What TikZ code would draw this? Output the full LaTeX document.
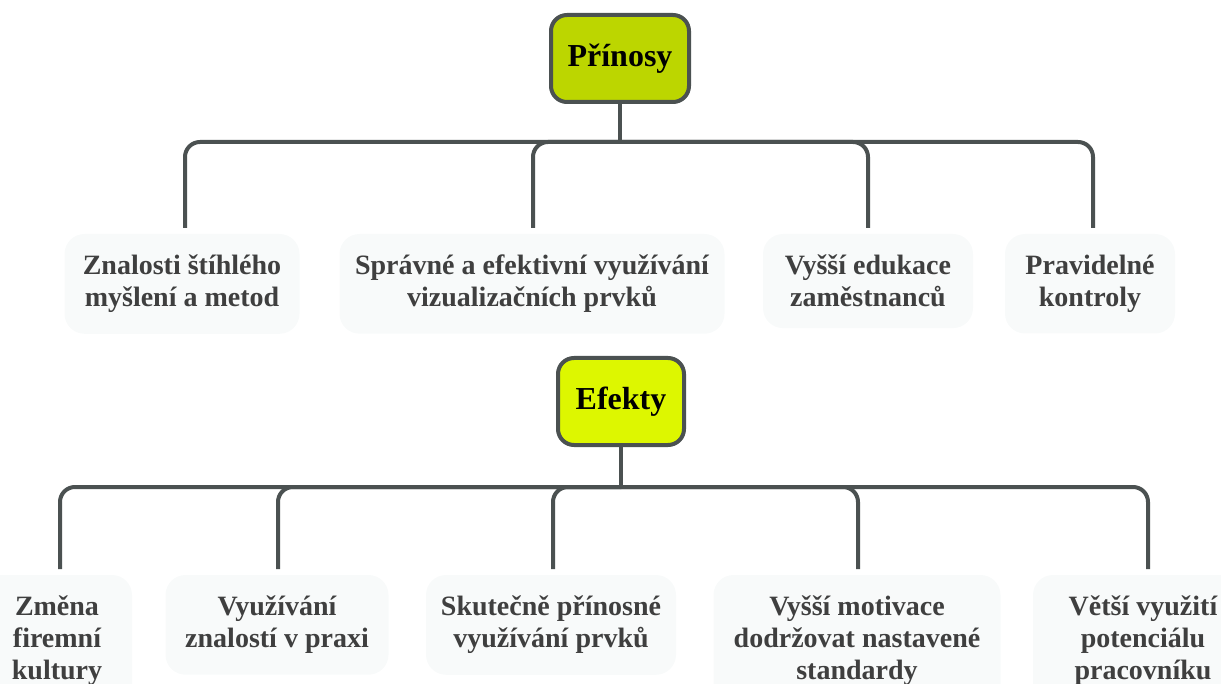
\documentclass[tikz,border=0pt]{standalone}
\usepackage{fontspec}
\setmainfont{Liberation Serif}
\begin{document}
\definecolor{linegray}{HTML}{4B5151}
\definecolor{rootA}{HTML}{BCD600}
\definecolor{rootB}{HTML}{DDF700}
\definecolor{leaffill}{HTML}{F8FAFA}
\definecolor{leaftext}{HTML}{3F3F3F}
\begin{tikzpicture}[x=1pt,y=-1pt,
  root/.style={draw=linegray, line width=4pt, rounded corners=16pt,
    minimum width=#1, minimum height=87pt, inner sep=0pt,
    font=\fontsize{32}{38}\selectfont\bfseries, text=black},
  leaf/.style={fill=leaffill, rounded corners=20pt, align=center,
    minimum width=#1, inner xsep=6pt, inner ysep=21pt, outer sep=6pt,
    font=\fontsize{28}{32}\selectfont\bfseries, text=leaftext},
  link/.style={draw=linegray, line width=4pt, rounded corners=15pt}]
\useasboundingbox (0,0) rectangle (1221,684);

% upper tree
\node[root=138pt, fill=rootA] (P) at (620,58.5) {Přínosy};
\coordinate (jP) at (620,142);
\node[leaf=235pt, anchor=north] (p1) at (182,228) {Znalosti štíhlého\\myšlení a metod};
\node[leaf=385pt, anchor=north] (p2) at (532,228) {Správné a efektivní využívání\\vizualizačních prvků};
\node[leaf=210pt, anchor=north] (p3) at (868,228) {Vyšší edukace\\zaměstnanců};
\node[leaf=170pt, anchor=north] (p4) at (1090,228) {Pravidelné\\kontroly};

% lower tree
\node[root=126pt, fill=rootB] (E) at (621,401.5) {Efekty};
\coordinate (jE) at (621,487);
\node[leaf=150pt, anchor=north] (e1) at (57,569) {Změna\\firemní\\kultury};
\node[leaf=223pt, anchor=north] (e2) at (277,569) {Využívání\\znalostí v praxi};
\node[leaf=250pt, anchor=north] (e3) at (551,569) {Skutečně přínosné\\využívání prvků};
\node[leaf=287pt, anchor=north] (e4) at (857,569) {Vyšší motivace\\dodržovat nastavené\\standardy};
\node[leaf=220pt, anchor=north] (e5) at (1143,569) {Větší využití\\potenciálu\\pracovníku};

% connectors
\draw[link] (P.south) -- (jP);
\foreach \c/\x in {p1/185,p2/533,p3/868,p4/1093}
  \draw[link] (jP) -| (\x,0 |- \c.north);
\draw[link] (E.south) -- (jE);
\foreach \c/\x in {e1/60,e2/278,e3/553,e4/858,e5/1148}
  \draw[link] (jE) -| (\x,0 |- \c.north);
\end{tikzpicture}
\end{document}
